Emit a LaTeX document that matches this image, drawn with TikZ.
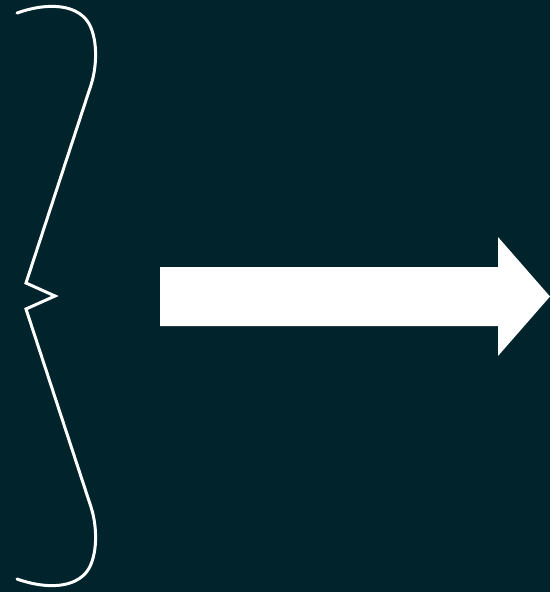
\documentclass[tikz,border=0pt]{standalone}
\definecolor{bgteal}{RGB}{1,35,43}
\tikzset{
  bracestyle/.style={draw=white, line width=3pt, line join=miter, line cap=round},
  blockarrow/.style={fill=white, draw=none}
}
\begin{document}
\begin{tikzpicture}[x=1pt,y=-1pt]
  \fill[bgteal] (0,0) rectangle (550,592);
  \useasboundingbox (0,0) rectangle (550,592);
  % curly brace
  \draw[bracestyle] (17,13) .. controls (45,3) and (75,3) .. (88,22)
    .. controls (97,36) and (98,63) .. (91,85)
    -- (26,283) -- (55,296) -- (26,309) -- (91,507)
    .. controls (98,529) and (97,556) .. (88,570)
    .. controls (75,589) and (45,589) .. (17,579);
  % block arrow
  \path[blockarrow] (160,267) -- (498,267) -- (498,237) -- (550,296.5)
    -- (498,356) -- (498,326) -- (160,326) -- cycle;
\end{tikzpicture}
\end{document}
